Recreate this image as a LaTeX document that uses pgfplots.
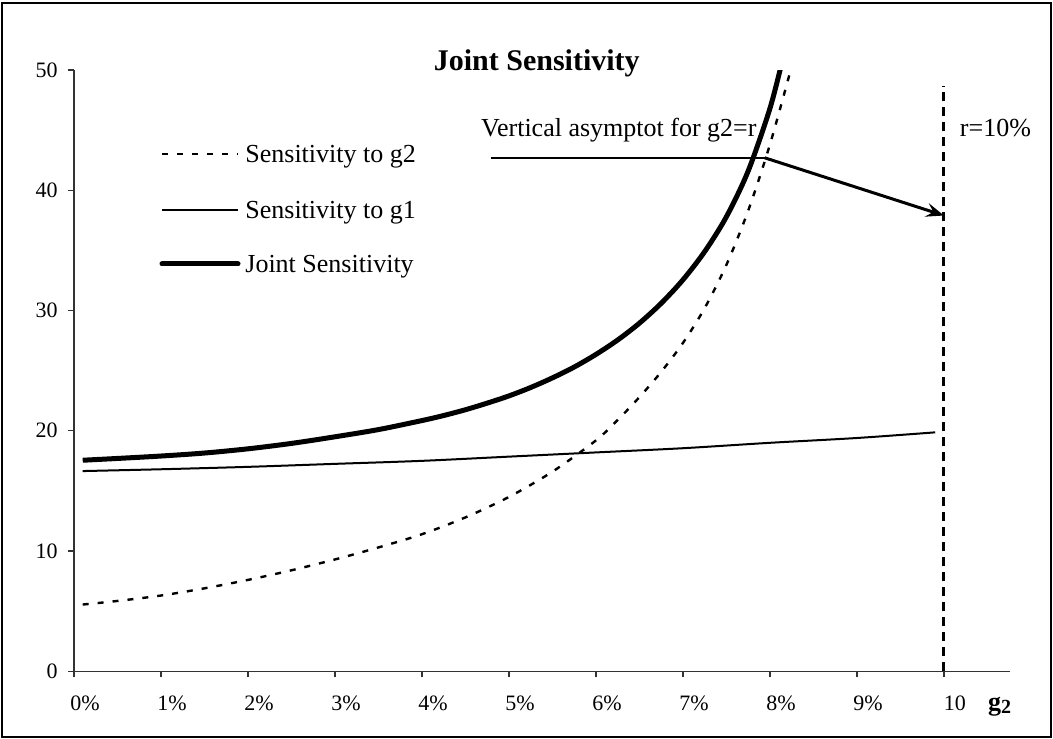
\documentclass[border=0pt]{standalone}
\usepackage{fontspec}
\setmainfont{Liberation Serif}
\usepackage{pgfplots}
\pgfplotsset{compat=1.18}
\usetikzlibrary{arrows.meta}

\tikzset{
  sensgtwo/.style={line width=1.2pt, dash pattern=on 3pt off 4.5pt},
  sensgone/.style={line width=1pt},
  sensjoint/.style={line width=2.5pt},
}

\begin{document}
\begin{tikzpicture}
\useasboundingbox (0,0) rectangle (526.5pt,369pt);
\draw[line width=1pt] (1pt,0.75pt) rectangle (525.5pt,367.25pt);

\begin{axis}[
  at={(37pt,33.35pt)}, anchor=south west,
  scale only axis, width=468pt, height=300.65pt,
  xmin=0, xmax=10.76, ymin=0, ymax=50,
  axis lines*=left,
  axis line style={black!80, line width=0.6pt},
  xtick={0,1,...,10},
  xticklabels={0\%,1\%,2\%,3\%,4\%,5\%,6\%,7\%,8\%,9\%,10},
  ytick={0,10,...,50},
  tick align=outside, major tick length=3pt,
  tick style={black!80, line width=0.6pt},
  ticklabel style={font=\fontsize{11}{13}\selectfont},
  /pgf/number format/assume math mode=true,
  xticklabel style={anchor=base, inner sep=0pt, yshift=-16.5pt, xshift=5.5pt},
  yticklabel style={anchor=east, inner sep=0pt, xshift=-5pt},
  clip mode=individual,
]
% sensitivity to g2
\addplot[sensgtwo, smooth] coordinates {
 (0.1,5.55)(0.5,5.85)(1,6.3)(1.5,6.9)(2,7.6)(2.5,8.4)(3,9.3)(3.5,10.3)
 (4,11.4)(4.5,12.8)(5,14.5)(5.5,16.6)(6,19.2)(6.25,20.9)(6.5,22.8)
 (6.75,24.9)(7,27.3)(7.25,30.2)(7.5,33.8)(7.75,38.3)(8,43.8)(8.25,50.3)
};
% sensitivity to g1
\addplot[sensgone, smooth] coordinates {
 (0.1,16.65)(1,16.8)(2,17.0)(3,17.25)(4,17.5)(5,17.85)(6,18.2)(7,18.55)
 (8,19.0)(9,19.4)(9.9,19.87)
};
% joint sensitivity
\addplot[sensjoint, smooth] coordinates {
 (0.1,17.55)(0.5,17.7)(1,17.9)(1.5,18.15)(2,18.5)(2.5,18.95)(3,19.5)
 (3.5,20.1)(4,20.85)(4.25,21.27)(4.5,21.75)(4.75,22.3)(5,22.9)(5.25,23.6)
 (5.5,24.4)(5.75,25.3)(6,26.35)(6.25,27.55)(6.5,28.95)(6.75,30.6)
 (7,32.55)(7.25,34.9)(7.5,37.8)(7.75,41.6)(8,46.8)(8.15,51.0)
};
% r = 10% asymptote
\addplot[line width=1.5pt, dash pattern=on 4.5pt off 3pt] coordinates {(10,0)(10,48.7)};

% annotations
\draw[line width=1pt] (axis cs:4.79,42.7) -- (axis cs:7.94,42.7);
\draw[line width=1.5pt, -{Stealth[length=9pt,width=7pt,inset=3.5pt]}]
  (axis cs:7.94,42.7) -- (axis cs:10,37.9);
\node[anchor=base east, inner sep=0pt, font=\fontsize{13}{15}\selectfont]
  at (axis cs:7.85,44.45) {Vertical asymptot for g2=r};
\node[anchor=base west, inner sep=0pt, font=\fontsize{13}{15}\selectfont]
  at (axis cs:10.18,44.45) {r=10\%};
\node[anchor=base, inner sep=0pt, font=\bfseries\fontsize{15}{18}\selectfont]
  at (axis cs:5.32,50) {Joint Sensitivity};
\node[anchor=base, inner sep=0pt, font=\bfseries\fontsize{13}{15}\selectfont]
  at (axis cs:10.64,0) [yshift=-19.5pt] {g\raisebox{-0.3ex}{\fontsize{10}{12}\selectfont 2}};
\end{axis}

% legend
\begin{scope}[every node/.style={anchor=base west, inner sep=0pt, font=\fontsize{13}{15}\selectfont}]
\draw[sensgtwo] (81pt,292pt) -- (119pt,292pt);
\node at (122.5pt,287.7pt) {Sensitivity to g2};
\draw[sensgone] (81pt,264pt) -- (119pt,264pt);
\node at (122.5pt,259.7pt) {Sensitivity to g1};
\draw[sensjoint, line cap=round] (81pt,237pt) -- (119pt,237pt);
\node at (122.5pt,232.7pt) {Joint Sensitivity};
\end{scope}
\end{tikzpicture}
\end{document}
